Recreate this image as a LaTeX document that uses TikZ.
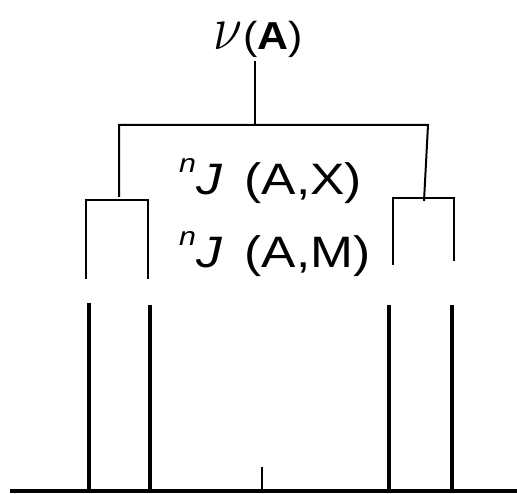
\documentclass[tikz,border=0pt]{standalone}
\usepackage{fontspec}
\setmainfont{Liberation Sans}
\begin{document}
\begin{tikzpicture}[x=1pt,y=-1pt,
  thin line/.style={line width=2pt},
  thick line/.style={line width=4pt},
  lbl/.style={inner sep=0pt,anchor=base west,font=\fontsize{44}{48}\selectfont}]
\useasboundingbox (0,0) rectangle (517,494);
% labels
\node[lbl,font=\fontsize{39}{44}\selectfont] (nu) at (213,50)
  {\resizebox{29pt}{27pt}{$\nu$}\kern1pt\scalebox{1.1}[1]{(\textbf{A})}};
\node[lbl] (jx) at (179,195)
  {\scalebox{1.17}[1]{\raisebox{0.5em}{\fontsize{26}{28}\selectfont\itshape n}\itshape J\upshape\ \,(A,X)}};
\node[lbl] (jm) at (179,268)
  {\scalebox{1.17}[1]{\raisebox{0.5em}{\fontsize{26}{28}\selectfont\itshape n}\itshape J\upshape\ \,(A,M)}};
% upper tree
\coordinate (top) at (255,61);
\coordinate (topj) at (255,125);
\draw[thin line] (top) -- (topj);
\draw[thin line] (119,197) -- (119,125) -- (428,125) -- (424,201);
\draw[thin line] (86,279) -- (86,200) -- (148,200) -- (148,279);
\draw[thin line] (393,265) -- (393,198) -- (454,198) -- (454,261);
% lower lines
\draw[thick line] (89,303) -- (89,491);
\draw[thick line] (150,305) -- (150,491);
\draw[thick line] (389,305) -- (389,491);
\draw[thick line] (452,305) -- (452,491);
\draw[thin line] (262,467) -- (262,491);
\draw[thick line] (10,491) -- (517,491);
\end{tikzpicture}
\end{document}
